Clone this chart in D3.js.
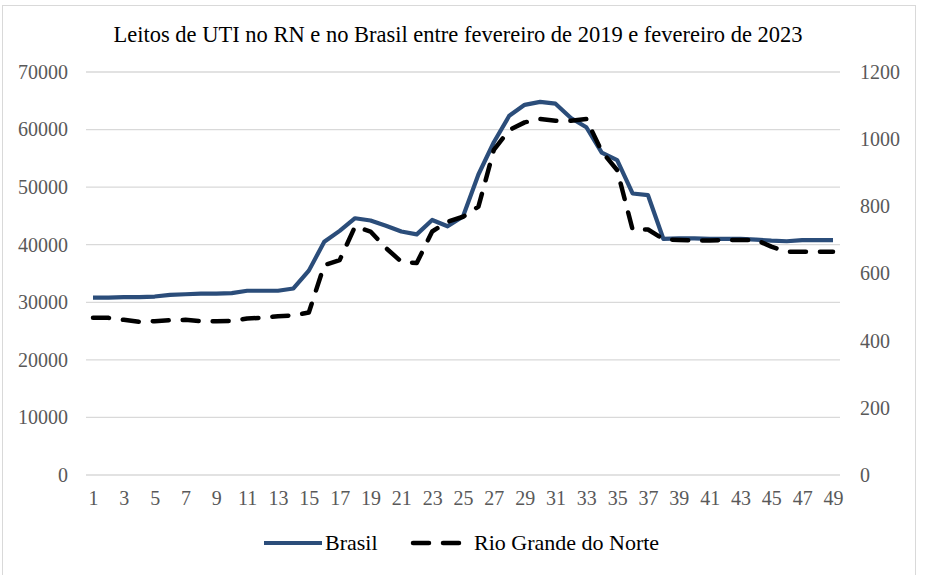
<!DOCTYPE html>
<html>
<head>
<meta charset="utf-8">
<script src="https://d3js.org/d3.v7.min.js"></script>
<style>
  body { margin: 0; background: #fff; }
  text { font-family: "Liberation Serif", "DejaVu Serif", serif; }
</style>
</head>
<body>
<svg width="925" height="575"></svg>
<script>
// data
const periods = d3.range(1, 50);
const brasil = [30800, 30800, 30900, 30900, 31000, 31300, 31400, 31500, 31500, 31600,
  32000, 32000, 32000, 32400, 35500, 40500, 42400, 44600, 44200, 43300,
  42300, 41800, 44300, 43200, 44900, 52200, 57800, 62400, 64300, 64800,
  64500, 62000, 60400, 56000, 54700, 48900, 48600, 41000, 41100, 41100,
  41000, 41000, 41000, 40900, 40700, 40600, 40800, 40800, 40800];
const rn = [468, 468, 462, 456, 458, 461, 462, 458, 458, 459,
  466, 468, 473, 475, 484, 625, 640, 740, 725, 676,
  635, 631, 725, 754, 769, 799, 968, 1027, 1050, 1060,
  1055, 1055, 1060, 963, 908, 731, 731, 702, 700, 698,
  698, 700, 700, 700, 680, 665, 665, 665, 665];
const leftTicks = [0, 10000, 20000, 30000, 40000, 50000, 60000, 70000];
const rightTicks = [0, 200, 400, 600, 800, 1000, 1200];
const xLabels = d3.range(1, 50, 2);
const title = "Leitos de UTI no RN e no Brasil entre fevereiro de 2019 e fevereiro de 2023";

const svg = d3.select("svg");
const blue = "#2b4d7a";

// chart border
svg.append("rect")
  .attr("x", 2.5).attr("y", 5.5)
  .attr("width", 913).attr("height", 580)
  .attr("fill", "none").attr("stroke", "#d9d9d9");

const x = d3.scaleLinear().domain([1, 49]).range([93, 833]);
const yL = d3.scaleLinear().domain([0, 70000]).range([475, 72]);
const yR = d3.scaleLinear().domain([0, 1200]).range([475, 72]);

// gridlines
svg.append("g").selectAll("line")
  .data(leftTicks).enter().append("line")
  .attr("x1", 86).attr("x2", 840)
  .attr("y1", d => yL(d)).attr("y2", d => yL(d))
  .attr("stroke", "#d9d9d9").attr("stroke-width", 1.3);

function styleAxis(g) {
  g.select(".domain").remove();
  g.selectAll("text").attr("fill", "#595959").style("font-size", "20px")
    .style("font-family", "Liberation Serif");
}

// left axis labels
svg.append("g").attr("transform", "translate(86,0)")
  .call(d3.axisLeft(yL).tickValues(leftTicks).tickSize(0).tickPadding(18).tickFormat(d3.format("d")))
  .call(styleAxis);

// right axis labels
svg.append("g").attr("transform", "translate(840,0)")
  .call(d3.axisRight(yR).tickValues(rightTicks).tickSize(0).tickPadding(20).tickFormat(d3.format("d")))
  .call(styleAxis);

// x axis labels
svg.append("g").attr("transform", "translate(0,475)")
  .call(d3.axisBottom(x).tickValues(xLabels).tickSize(0).tickPadding(16).tickFormat(d3.format("d")))
  .call(styleAxis);

// lines
const lineL = d3.line().x((d, i) => x(periods[i])).y(d => yL(d));
const lineR = d3.line().x((d, i) => x(periods[i])).y(d => yR(d));

svg.append("path").datum(brasil)
  .attr("d", lineL).attr("fill", "none")
  .attr("stroke", blue).attr("stroke-width", 4.2)
  .attr("stroke-linejoin", "round");

svg.append("path").datum(rn)
  .attr("d", lineR).attr("fill", "none")
  .attr("stroke", "#000").attr("stroke-width", 4.5)
  .attr("stroke-dasharray", "16 14").attr("stroke-linecap", "round")
  .attr("stroke-linejoin", "round");

// title
svg.append("text")
  .attr("x", 458).attr("y", 42)
  .attr("text-anchor", "middle")
  .style("font-size", "22.5px").attr("fill", "#000")
  .text(title);

// legend
const lg = svg.append("g").attr("transform", "translate(0,543)");
lg.append("line").attr("x1", 264).attr("x2", 322).attr("y1", 0).attr("y2", 0)
  .attr("stroke", blue).attr("stroke-width", 4.2);
lg.append("text").attr("x", 325).attr("y", 7).style("font-size", "22px").attr("fill", "#000")
  .text("Brasil");
lg.append("line").attr("x1", 413).attr("x2", 466).attr("y1", 0).attr("y2", 0)
  .attr("stroke", "#000").attr("stroke-width", 4.5)
  .attr("stroke-dasharray", "16 14").attr("stroke-linecap", "round");
lg.append("text").attr("x", 474).attr("y", 7).style("font-size", "22px").attr("fill", "#000")
  .text("Rio Grande do Norte");
</script>
</body>
</html>
